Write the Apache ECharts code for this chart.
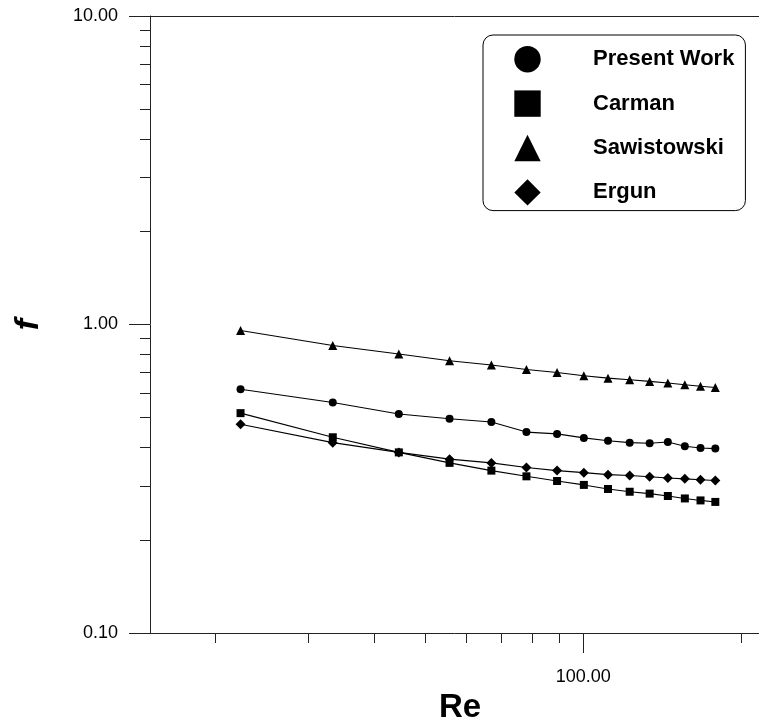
<!DOCTYPE html>
<html><head><meta charset="utf-8">
<script src="https://cdn.jsdelivr.net/npm/echarts@6/dist/echarts.min.js"></script>
<style>html,body{margin:0;padding:0;background:#fff}#c{width:759px;height:723px}</style>
</head><body><div id="c"></div>
<script>
const re = [22.3, 33.4, 44.6, 55.7, 66.9, 78.0, 89.2, 100.3, 111.5, 122.6, 133.8, 144.9, 156.1, 167.2, 178.4];
const presentWork = [0.617, 0.559, 0.513, 0.495, 0.483, 0.448, 0.442, 0.429, 0.420, 0.414, 0.412, 0.416, 0.403, 0.398, 0.396];
const carman = [0.516, 0.431, 0.385, 0.356, 0.336, 0.322, 0.311, 0.302, 0.293, 0.287, 0.283, 0.278, 0.273, 0.269, 0.266];
const sawistowski = [0.956, 0.855, 0.802, 0.763, 0.739, 0.715, 0.699, 0.682, 0.670, 0.662, 0.654, 0.646, 0.638, 0.631, 0.625];
const ergun = [0.475, 0.414, 0.385, 0.366, 0.356, 0.344, 0.336, 0.331, 0.326, 0.324, 0.321, 0.318, 0.316, 0.314, 0.312];
const xMajorTicks = [100];
const xMinorTicks = [20, 30, 40, 50, 60, 70, 80, 90, 200];
const yMajorTicks = [0.1, 1, 10];
const yMinorTicks = [0.2, 0.3, 0.4, 0.5, 0.6, 0.7, 0.8, 0.9, 2, 3, 4, 5, 6, 7, 8, 9];

const FONT = '"Liberation Sans", Arial, sans-serif';
const AX = '#222';
const xMin = 15, xMax = 216, yMin = 0.1, yMax = 10;

function pairs(ys){ return re.map((x,i)=>[x, ys[i]]); }
function mkSeries(name, ys, symbol, size){
  return {name, type:'line', data:pairs(ys), symbol, symbolSize:size,
    itemStyle:{color:'#000'}, lineStyle:{color:'#000', width:1.1}, xAxisIndex:0, yAxisIndex:0, z:3};
}
const baseX = {type:'log', min:xMin, max:xMax, splitLine:{show:false}, minorTick:{show:false}, minorSplitLine:{show:false}};
const baseY = {type:'log', min:yMin, max:yMax, splitLine:{show:false}, minorTick:{show:false}, minorSplitLine:{show:false}};

const chart = echarts.init(document.getElementById('c'), null, {renderer:'canvas'});
chart.setOption({
  animation:false,
  backgroundColor:'#fff',
  grid:{left:150, top:16, right:0, bottom:90, containLabel:false, outerBoundsMode:'none'},
  legend:{
    orient:'vertical', left:483, top:35,
    padding:[11, 11, 5, 28],
    borderColor:'#000', borderWidth:1, borderRadius:10,
    itemWidth:33, itemHeight:33, itemGap:18,
    lineStyle:{width:0, opacity:0},
    textStyle:{fontFamily:FONT, fontSize:22, fontWeight:'bold', color:'#000', padding:[0,0,0,44]},
    data:['Present Work','Carman','Sawistowski','Ergun']
  },
  xAxis:[
    Object.assign({}, baseX, {position:'bottom',
      axisLine:{show:true, onZero:false, lineStyle:{color:AX, width:1}},
      axisTick:{show:true, length:20, customValues:xMajorTicks, lineStyle:{color:AX}},
      axisLabel:{show:true, customValues:xMajorTicks, margin:35, fontFamily:FONT, fontSize:18, color:'#000', formatter:v=>Number(v).toFixed(2)},
      name:'Re', nameLocation:'middle', nameGap:58,
      nameTextStyle:{fontFamily:FONT, fontSize:33, fontWeight:'bold', color:'#000', padding:[0,0,0,11]}}),
    Object.assign({}, baseX, {position:'bottom',
      axisLine:{show:false, onZero:false},
      axisTick:{show:true, length:10, customValues:xMinorTicks, lineStyle:{color:AX}},
      axisLabel:{show:false, customValues:xMinorTicks}}),
    Object.assign({}, baseX, {position:'top',
      axisLine:{show:true, onZero:false, lineStyle:{color:AX, width:1}},
      axisTick:{show:false}, axisLabel:{show:false}})
  ],
  yAxis:[
    Object.assign({}, baseY, {position:'left',
      axisLine:{show:true, onZero:false, lineStyle:{color:AX, width:1}},
      axisTick:{show:true, length:21, customValues:yMajorTicks, lineStyle:{color:AX}},
      axisLabel:{show:true, customValues:yMajorTicks, margin:32, fontFamily:FONT, fontSize:18, color:'#000', formatter:v=>Number(v).toFixed(2)},
      name:'f', nameLocation:'middle', nameGap:104,
      nameTextStyle:{fontFamily:FONT, fontSize:34, fontWeight:'bold', fontStyle:'italic', color:'#000'}}),
    Object.assign({}, baseY, {position:'left',
      axisLine:{show:false, onZero:false},
      axisTick:{show:true, length:10, customValues:yMinorTicks, lineStyle:{color:AX}},
      axisLabel:{show:false, customValues:yMinorTicks}})
  ],
  series:[
    mkSeries('Present Work', presentWork, 'circle', 8),
    mkSeries('Carman', carman, 'rect', 8),
    mkSeries('Sawistowski', sawistowski, 'triangle', 9),
    mkSeries('Ergun', ergun, 'diamond', 10)
  ]
});
</script></body></html>
